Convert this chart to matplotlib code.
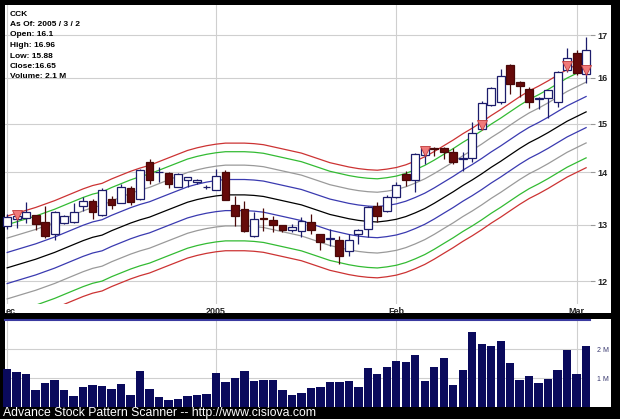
import matplotlib.pyplot as plt
import numpy as np
from matplotlib.patches import Rectangle
from matplotlib import transforms

plt.rcParams['font.family'] = ['Liberation Sans', 'DejaVu Sans']

# daily prices, Dec 1 2004 .. Mar 2 2005
opens = [12.97, 13.10, 13.12, 13.18, 13.05, 12.83, 13.03, 13.05, 13.35, 13.44,
         13.18, 13.48, 13.40, 13.69, 13.48, 14.20, 14.00, 13.98, 13.71, 13.84,
         13.80, 13.71, 13.65, 14.00, 13.36, 13.29, 12.79, 13.12, 13.08, 12.99,
         12.90, 12.88, 13.05, 12.83, 12.74, 12.72, 12.52, 12.83, 12.92, 13.35,
         13.25, 13.52, 13.96, 13.84, 14.34, 14.50, 14.48, 14.40, 14.27, 14.28,
         14.89, 15.40, 15.47, 16.30, 15.90, 15.76, 15.53, 15.55, 15.47, 16.18,
         16.57, 16.10]
highs = [13.20, 13.20, 13.42, 13.18, 13.35, 13.25, 13.18, 13.40, 13.52, 13.48,
         13.69, 13.54, 13.77, 13.73, 14.06, 14.26, 14.10, 14.00, 13.98, 13.90,
         13.86, 13.75, 14.06, 14.04, 13.54, 13.44, 13.23, 13.31, 13.16, 12.99,
         13.01, 13.14, 13.20, 12.83, 12.92, 12.79, 12.83, 12.92, 13.35, 13.42,
         13.56, 13.80, 14.02, 14.38, 14.52, 14.52, 14.52, 14.50, 14.40, 15.04,
         15.49, 15.80, 16.20, 16.32, 15.93, 15.80, 15.57, 15.74, 16.15, 16.69,
         16.64, 16.96]
lows = [12.92, 12.94, 13.03, 12.90, 12.76, 12.73, 13.01, 13.04, 13.25, 13.10,
        13.16, 13.29, 13.40, 13.37, 13.46, 13.78, 13.80, 13.69, 13.71, 13.71,
        13.78, 13.68, 13.65, 13.46, 12.97, 12.86, 12.77, 12.88, 12.86, 12.86,
        12.86, 12.77, 12.83, 12.55, 12.62, 12.30, 12.43, 12.65, 12.77, 13.05,
        13.23, 13.50, 13.73, 13.61, 14.16, 14.32, 14.26, 14.16, 14.02, 14.20,
        14.89, 15.38, 15.42, 15.64, 15.58, 15.33, 15.31, 15.12, 15.36, 16.13,
        16.06, 15.88]
closes = [13.14, 13.16, 13.23, 13.01, 12.79, 13.23, 13.16, 13.23, 13.44, 13.23,
          13.65, 13.37, 13.71, 13.42, 14.04, 13.84, 14.01, 13.78, 13.96, 13.90,
          13.84, 13.72, 13.92, 13.46, 13.16, 12.88, 13.10, 13.10, 12.99, 12.90,
          12.95, 13.06, 12.90, 12.69, 12.76, 12.43, 12.72, 12.90, 13.33, 13.16,
          13.52, 13.75, 13.84, 14.36, 14.50, 14.46, 14.40, 14.20, 14.29, 14.81,
          15.44, 15.78, 16.04, 15.87, 15.81, 15.46, 15.55, 15.72, 16.13, 16.46,
          16.11, 16.65]
# volume in millions
volumes = [1.32, 1.21, 1.14, 0.57, 0.82, 0.93, 0.57, 0.37, 0.69, 0.76,
           0.71, 0.61, 0.78, 0.40, 1.23, 0.61, 0.36, 0.25, 0.29, 0.37,
           0.40, 0.44, 1.18, 0.85, 0.99, 1.24, 0.91, 0.93, 0.93, 0.57,
           0.40, 0.48, 0.64, 0.69, 0.86, 0.86, 0.91, 0.69, 1.33, 1.15,
           1.37, 1.57, 1.55, 1.78, 0.90, 1.37, 1.68, 0.76, 1.26, 2.57,
           2.16, 2.09, 2.29, 1.52, 0.93, 1.06, 0.82, 0.98, 1.26, 1.95,
           1.15, 2.09]
# middle line of the envelope
center = [12.23, 12.28, 12.33, 12.38, 12.44, 12.50, 12.57, 12.64, 12.71, 12.77,
          12.81, 12.89, 12.96, 13.03, 13.09, 13.14, 13.21, 13.28, 13.35, 13.42,
          13.47, 13.51, 13.54, 13.56, 13.56, 13.56, 13.55, 13.53, 13.49, 13.45,
          13.41, 13.37, 13.31, 13.25, 13.19, 13.15, 13.11, 13.08, 13.06, 13.05,
          13.07, 13.10, 13.15, 13.22, 13.30, 13.40, 13.51, 13.62, 13.74, 13.85,
          13.97, 14.10, 14.22, 14.35, 14.48, 14.60, 14.70, 14.81, 14.93, 15.05,
          15.15, 15.25]
band_pcts = [2.2, 4.3, 6.3, 7.6]
band_colors = ['#3a3ab0', '#9a9a9a', '#33bb33', '#cc3333']
signal_bars = [1, 44, 50, 59, 61]

month_pos = [0, 22, 41, 60]
month_labels = ['ec', '2005', 'Feb', 'Mar']
price_ticks = [12, 13, 14, 15, 16, 17]

info = ['CCK', 'As Of: 2005 / 3 / 2', 'Open: 16.1', 'High: 16.96',
        'Low: 15.88', 'Close:16.65', 'Volume: 2.1 M']

W, H = 620, 419
fig = plt.figure(figsize=(W / 100, H / 100), dpi=100, facecolor='black')

def px_box(l, t, r, b):
    return [l / W, 1 - b / H, (r - l) / W, (b - t) / H]

# white panels behind both axes
for l, t, r, b in [(5, 5, 611, 313), (5, 319, 611, 407)]:
    fig.add_artist(Rectangle((l / W, 1 - b / H), (r - l) / W, (b - t) / H,
                             transform=fig.transFigure, facecolor='white',
                             edgecolor='none', zorder=-1))

ax = fig.add_axes(px_box(5, 5, 590, 304))
vax = fig.add_axes(px_box(5, 320, 590, 407))

x = np.arange(len(closes))
xlim = (-0.23, 61.41)

# price panel
ax.set_yscale('log')
ax.set_xlim(*xlim)
ax.set_ylim(11.62, 17.74)
for v in price_ticks:
    ax.axhline(v, color='#cfcfcf', lw=0.8, zorder=0)
for p in month_pos:
    ax.axvline(p, color='#cfcfcf', lw=0.8, zorder=0)

c = np.array(center)
ax.plot(x, c, color='black', lw=0.9, zorder=1)
for pct, col in zip(band_pcts, band_colors):
    ax.plot(x, c * (1 + pct / 100), color=col, lw=0.9, zorder=1)
    ax.plot(x, c * (1 - pct / 100), color=col, lw=0.9, zorder=1)

for i in x:
    o, h, l, cl = opens[i], highs[i], lows[i], closes[i]
    up = cl >= o
    wick = '#1c1c6b' if up else '#4a0808'
    ax.vlines(i, l, h, color=wick, lw=0.9, zorder=2, clip_on=False)
    lo, hi = min(o, cl), max(o, cl)
    ax.bar(i, max(hi - lo, 0.004), bottom=lo, width=0.82,
           facecolor='white' if up else '#660a0a',
           edgecolor='#1c1c6b' if up else '#4a0808', lw=0.9, zorder=3,
           clip_on=False)

tri = transforms.offset_copy(ax.transData, fig=fig, y=4, units='dots')
for i in signal_bars:
    ax.plot(i, min(opens[i], closes[i]), marker='v', ms=7, color='#f07a7a',
            mec='#c03a3a', mew=0.6, transform=tri, zorder=4, clip_on=False)

ax.yaxis.tick_right()
ax.set_yticks(price_ticks)
ax.set_yticklabels([str(v) for v in price_ticks])
ax.yaxis.set_minor_locator(plt.NullLocator())
ax.tick_params(axis='y', length=3.5, color='#999999', pad=1.5, labelsize=6.5)
ax.set_xticks([0.35] + month_pos[1:])
ax.set_xticklabels(month_labels)
ax.tick_params(axis='x', length=0, pad=2, labelsize=6.5)
for t in ax.get_xticklabels() + ax.get_yticklabels():
    t.set_fontweight('bold')
    t.set_color('#222222')
for s in ax.spines.values():
    s.set_visible(False)

for k, line in enumerate(info):
    ax.text(10 / W, 1 - (14 + 10.5 * k) / H, line, transform=fig.transFigure,
            fontsize=6, fontweight='bold', va='center', ha='left', zorder=5)

# volume panel
vax.set_xlim(*xlim)
vax.set_ylim(0, 3.0)
for v in [1, 2]:
    vax.axhline(v, color='#cfcfcf', lw=0.8, zorder=0)
for p in month_pos:
    vax.axvline(p, color='#cfcfcf', lw=0.8, zorder=0)
vax.bar(x, volumes, width=0.88, color='#0a0a5c', zorder=2, clip_on=False)
vax.yaxis.tick_right()
vax.set_yticks([1, 2])
vax.set_yticklabels(['1 M', '2 M'])
vax.tick_params(axis='y', length=0, pad=5, labelsize=5, labelcolor='#3a3a70')
vax.set_xticks([])
for s in vax.spines.values():
    s.set_visible(False)
vax.spines['top'].set_visible(True)
vax.spines['top'].set_color('#3a3aa0')
vax.spines['top'].set_linewidth(1.5)

fig.text(3 / W, 1 - 413 / H, 'Advance Stock Pattern Scanner -- http://www.cisiova.com',
         color='white', fontsize=8.8, va='center', ha='left')

fig.savefig('out.png', dpi=100, facecolor='black')
